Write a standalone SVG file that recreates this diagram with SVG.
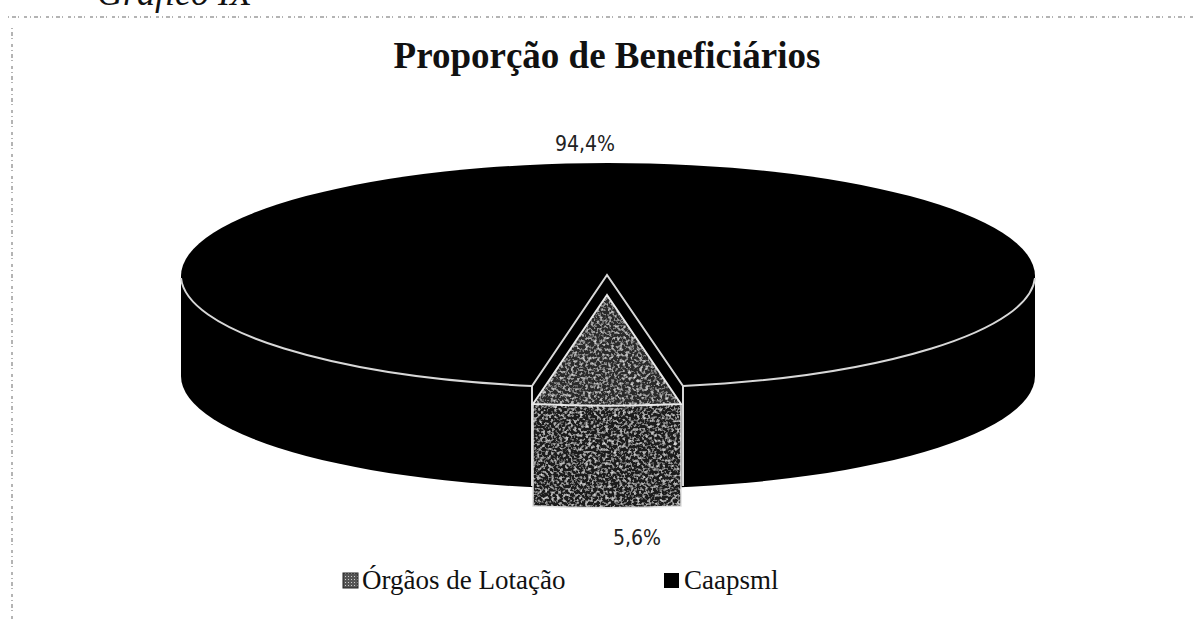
<svg xmlns="http://www.w3.org/2000/svg" width="1194" height="628" viewBox="0 0 1194 628">
  <style>
    .serif { font-family: "Liberation Serif", "Times New Roman", serif; fill: #111; }
    .sans { font-family: "DejaVu Sans Condensed", "DejaVu Sans", sans-serif; fill: #222; }
    .title { font-size: 37px; font-weight: bold; }
    .lbl { font-size: 21px; }
    .leg { font-size: 27px; }
    .rim { fill: none; stroke: #d8d8d8; stroke-width: 2; }
    .scan { stroke: #b4b4b4; stroke-width: 2; stroke-dasharray: 1 3 4 2 1 5 3 3; fill: none; }
  </style>
  <defs>
    <filter id="mottle" x="0" y="0" width="1" height="1">
      <feTurbulence type="fractalNoise" baseFrequency="0.35" numOctaves="2" seed="7" result="n"/>
      <feColorMatrix in="n" type="matrix" values="0 0 0 0 0.85  0 0 0 0 0.85  0 0 0 0 0.85  2.2 0 0 0 -1.05" result="w"/>
      <feComposite in="w" in2="SourceGraphic" operator="in" result="wc"/>
      <feMerge><feMergeNode in="SourceGraphic"/><feMergeNode in="wc"/></feMerge>
    </filter>
    <pattern id="legpat" width="3" height="3" patternUnits="userSpaceOnUse">
      <rect width="3" height="3" fill="#555"/>
      <rect width="1" height="1" fill="#ccc"/>
    </pattern>
  </defs>

  <!-- scan edges -->
  <line class="scan" x1="8" y1="17" x2="1194" y2="17"/>
  <line class="scan" x1="12" y1="28" x2="12" y2="620"/>

  <text class="serif" x="97" y="5" font-size="36" font-style="italic">Gráfico IX</text>
  <text class="serif title" x="607" y="68" text-anchor="middle">Proporção de Beneficiários</text>

  <g id="pie-caapsml">
    <path d="M181,276 L181,376 A427,113 0 0 0 1035,376 L1035,276 Z" fill="#000"/>
    <ellipse cx="608" cy="276" rx="427" ry="113" fill="#000"/>
    <path class="rim" d="M181,278 A427,113 0 0 0 532,386"/>
    <path class="rim" d="M683,386 A427,113 0 0 0 1035,278"/>
    <path class="rim" d="M532,386 L607,275 L683,386"/>
    <line class="rim" x1="532" y1="386" x2="532" y2="486" stroke-width="1.5"/>
    <line class="rim" x1="683" y1="386" x2="683" y2="486" stroke-width="1.5"/>
  </g>

  <g id="slice-orgaos">
    <path d="M533,404 L533,506 A427,113 0 0 0 681,506 L681,404 Z" fill="#1c1c1c" filter="url(#mottle)"/>
    <path d="M607,295 L533,404 A427,113 0 0 0 681,404 Z" fill="#2c2c2c" filter="url(#mottle)"/>
    <path d="M533,404 L533,506 A427,113 0 0 0 681,506 L681,404" fill="none" stroke="#e0e0e0" stroke-width="1.5"/>
    <path d="M607,295 L533,404 A427,113 0 0 0 681,404 Z" fill="none" stroke="#e8e8e8" stroke-width="2"/>
  </g>

  <g id="labels">
    <text class="sans lbl" x="585" y="151" text-anchor="middle">94,4%</text>
    <text class="sans lbl" x="637" y="545" text-anchor="middle">5,6%</text>
  </g>

  <g id="legend">
    <g id="legend-orgaos">
      <rect x="343" y="573" width="15" height="15" fill="url(#legpat)" stroke="#222" stroke-width="1"/>
      <text class="serif leg" x="362" y="589">Órgãos de Lotação</text>
    </g>
    <g id="legend-caapsml">
      <rect x="664" y="573" width="15" height="15" fill="#000"/>
      <text class="serif leg" x="684" y="589">Caapsml</text>
    </g>
  </g>
</svg>
